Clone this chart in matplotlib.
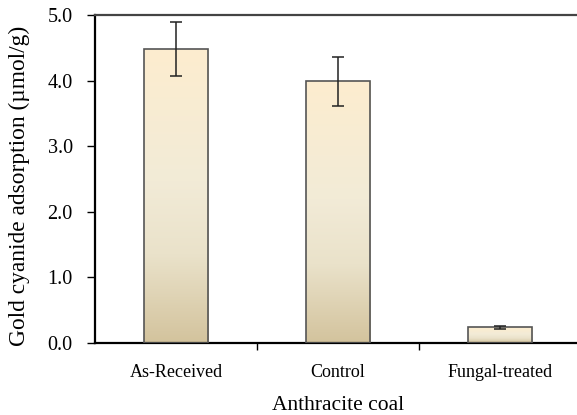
import matplotlib
matplotlib.use("Agg")
import matplotlib.pyplot as plt
import numpy as np
from matplotlib.colors import LinearSegmentedColormap
from matplotlib.patches import Rectangle

categories = ["As-Received", "Control", "Fungal-treated"]
adsorption = [4.48, 3.99, 0.24]
errors = [0.41, 0.37, 0.02]
y_ticks = [0.0, 1.0, 2.0, 3.0, 4.0, 5.0]

plt.rcParams["font.family"] = ["Liberation Serif", "DejaVu Serif"]

fig = plt.figure(figsize=(5.77, 4.15), dpi=100)
ax = fig.add_axes([95 / 577, 72 / 415, 486 / 577, 328 / 415])

# cream-to-tan vertical gradient for the bar fill
grad = LinearSegmentedColormap.from_list(
    "bar_grad",
    [(0.0, "#D3C39D"), (0.3, "#EAE2CA"), (0.55, "#F2EBD7"), (1.0, "#FDEDCF")],
)
x = np.arange(len(categories))
width = 0.4
for xi, h in zip(x, adsorption):
    rect = Rectangle((xi - width / 2, 0), width, h, facecolor="none",
                     edgecolor="#555555", linewidth=1.2, zorder=3)
    ax.add_patch(rect)
    img = ax.imshow(np.linspace(0, 1, 256).reshape(-1, 1), cmap=grad,
                    origin="lower", aspect="auto",
                    extent=(xi - width / 2, xi + width / 2, 0, h), zorder=2)
    img.set_clip_path(rect)

ax.errorbar(x, adsorption, yerr=errors, fmt="none", ecolor="#222222",
            elinewidth=1.1, capsize=4, capthick=1.1, zorder=4)

ax.set_xlim(-0.5, 2.5)
ax.set_ylim(0, 5.0)
ax.set_yticks(y_ticks)
ax.set_yticklabels([f"{v:.1f}" for v in y_ticks], fontsize=14.5)
ax.set_xticks([0.5, 1.5])
ax.set_xticklabels([])
ax.set_xticks(x, minor=True)
ax.set_xticklabels(categories, minor=True, fontsize=13)
ax.tick_params(axis="x", which="major", direction="out", length=5, width=1)
ax.tick_params(axis="x", which="minor", length=0, pad=15)
ax.tick_params(axis="y", direction="out", length=6, width=1, pad=10)

ax.spines["right"].set_visible(False)
ax.spines["top"].set_color("#444444")
ax.spines["top"].set_linewidth(1.6)
ax.spines["left"].set_linewidth(1.6)
ax.spines["bottom"].set_linewidth(1.6)

ax.set_ylabel("Gold cyanide adsorption (\u00b5mol/g)", fontsize=16.8)
ax.yaxis.set_label_coords(-0.134, 0.48)
ax.set_xlabel("Anthracite coal", fontsize=15.5, labelpad=11)

fig.savefig("out.png", dpi=100)
